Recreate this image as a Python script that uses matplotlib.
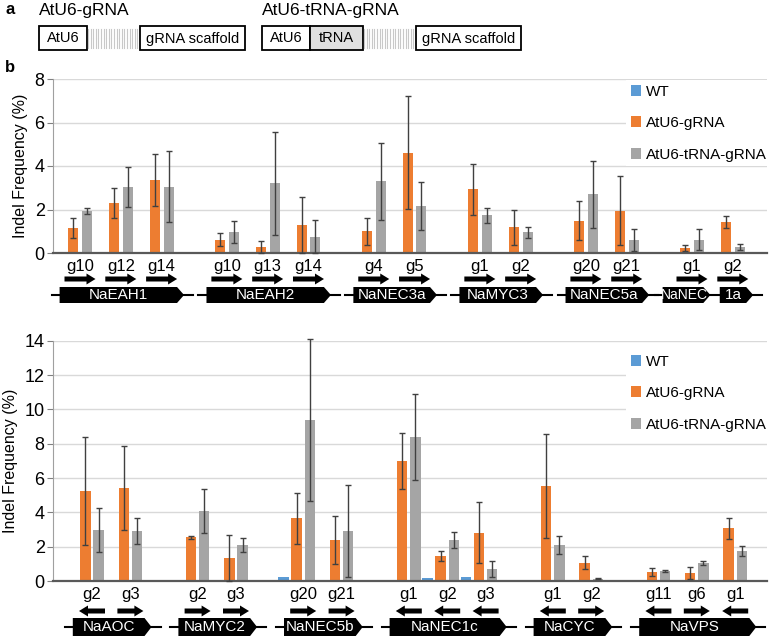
import matplotlib
matplotlib.use("Agg")
from matplotlib import pyplot as plt
from matplotlib import transforms
from matplotlib.patches import Polygon, Rectangle
import numpy as np

plt.rcParams['font.family'] = ['Liberation Sans', 'DejaVu Sans']

# ---- data ----
series = ["WT", "AtU6-gRNA", "AtU6-tRNA-gRNA"]
colors = ["#5B9BD5", "#ED7D31", "#A5A5A5"]

top_genes = ["NaEAH1", "NaEAH2", "NaNEC3a", "NaMYC3", "NaNEC5a", "NaNEC1a"]
top_grna = [["g10", "g12", "g14"], ["g10", "g13", "g14"], ["g4", "g5"],
            ["g1", "g2"], ["g20", "g21"], ["g1", "g2"]]
top_dir = [[1, 1, 1], [1, 1, 1], [1, 1], [1, 1], [1, 1], [1, 1]]
top_wt = [0, 0, 0, 0, 0.05, 0, 0, 0, 0, 0, 0, 0, 0.05, 0]
top_u6 = [1.15, 2.30, 3.36, 0.61, 0.28, 1.29, 1.00, 4.62, 2.93, 1.18, 1.49, 1.94, 0.23, 1.43]
top_u6_err = [0.46, 0.70, 1.18, 0.31, 0.27, 1.29, 0.62, 2.59, 1.17, 0.81, 0.90, 1.58, 0.15, 0.29]
top_tr = [1.94, 3.04, 3.04, 0.97, 3.20, 0.75, 3.30, 2.15, 1.74, 0.95, 2.69, 0.61, 0.61, 0.28]
top_tr_err = [0.15, 0.92, 1.63, 0.50, 2.37, 0.76, 1.77, 1.11, 0.35, 0.25, 1.53, 0.51, 0.48, 0.14]

bot_genes = ["NaAOC", "NaMYC2", "NaNEC5b", "NaNEC1c", "NaCYC", "NaVPS"]
bot_grna = [["g2", "g3"], ["g2", "g3"], ["g20", "g21"], ["g1", "g2", "g3"],
            ["g1", "g2"], ["g11", "g6", "g1"]]
bot_dir = [[-1, 1], [1, 1], [1, 1], [-1, -1, -1], [-1, 1], [-1, 1, -1]]
bot_wt = [0, 0, 0, 0, 0.25, 0.08, 0.08, 0.15, 0.25, 0, 0, 0, 0, 0]
bot_u6 = [5.26, 5.42, 2.54, 1.36, 3.65, 2.39, 7.01, 1.46, 2.82, 5.53, 1.07, 0.52, 0.49, 3.07]
bot_u6_err = [3.15, 2.45, 0.08, 1.34, 1.48, 1.39, 1.63, 0.29, 1.78, 3.04, 0.36, 0.22, 0.35, 0.62]
bot_tr = [2.97, 2.91, 4.08, 2.10, 9.38, 2.91, 8.41, 2.39, 0.70, 2.10, 0.12, 0.58, 1.03, 1.75]
bot_tr_err = [1.26, 0.76, 1.29, 0.39, 4.74, 2.67, 2.50, 0.45, 0.49, 0.54, 0.03, 0.08, 0.12, 0.27]

W, H = 771, 640
fig = plt.figure(figsize=(W / 100, H / 100), dpi=100)

# ---- panel a (construct diagram, pixel coords) ----
ax0 = fig.add_axes([0, 0, 1, 1])
ax0.set_xlim(0, W)
ax0.set_ylim(H, 0)
ax0.axis("off")
ax0.text(5, 9, "a", fontsize=12, fontweight="bold", va="center")
ax0.text(5, 68, "b", fontsize=12, fontweight="bold", va="center")


def box(x0, x1, label, face="white"):
    ax0.add_patch(Rectangle((x0, 26), x1 - x0, 24, facecolor=face, edgecolor="black", lw=1.3))
    ax0.text((x0 + x1) / 2, 38.5, label, fontsize=10.5, ha="center", va="center")


def spacer(x0, x1):
    for xs in np.arange(x0 + 1, x1, 2.6):
        ax0.plot([xs, xs], [28.5, 37.5], color="#c8c8c8", lw=0.8)
        ax0.plot([xs, xs], [38.8, 47.5], color="#c8c8c8", lw=0.8)


ax0.text(39, 11, "AtU6-gRNA", fontsize=12.5, va="center")
box(39, 87, "AtU6")
spacer(87, 140)
box(140, 245, "gRNA scaffold")

ax0.text(262, 11, "AtU6-tRNA-gRNA", fontsize=12.5, va="center")
box(262, 310, "AtU6")
box(310, 363, "tRNA", face="#e0e0e0")
spacer(363, 416)
box(416, 521, "gRNA scaffold")


def positions(groups, gap):
    pos = []
    x = 0.0
    for i, g in enumerate(groups):
        if i > 0:
            x += gap
        for j in range(len(g)):
            if j > 0:
                x += 1
            pos.append(x)
    return np.array(pos)


def panel(rect, groups, genes, dirs, wt, u6, u6e, tr, tre, gap, ymax, ppu, first_px,
          lab_dy, arr_dy, gene_dy, gene_h, arr_len, bar_w, step, legend_anchor):
    ax = fig.add_axes(rect)
    pos = positions(groups, gap)
    ax_h = rect[3] * H
    left_px = rect[0] * W
    right_px = (rect[0] + rect[2]) * W
    xl = -(first_px - left_px) / ppu
    xr = xl + (right_px - left_px) / ppu
    ax.set_xlim(xl, xr)
    ax.set_ylim(0, ymax)

    ax.bar(pos - 1.5 * step, wt, bar_w, color=colors[0], label=series[0], zorder=2)
    ax.bar(pos - 0.5 * step, u6, bar_w, color=colors[1], label=series[1], zorder=2)
    ax.bar(pos + 0.5 * step, tr, bar_w, color=colors[2], label=series[2], zorder=2)
    for xs, ys, es in [(pos - 0.5 * step, u6, u6e), (pos + 0.5 * step, tr, tre)]:
        eb = ax.errorbar(xs, ys, yerr=es, fmt="none", ecolor="#404040",
                         elinewidth=1, capsize=2.5, capthick=1, zorder=3)
        for part in list(eb[1]) + list(eb[2]):
            part.set_clip_on(False)

    ax.set_yticks(np.arange(0, ymax + 0.1, 2))
    ax.yaxis.grid(True, color="#d9d9d9", lw=1)
    ax.set_axisbelow(True)
    ax.tick_params(axis="y", labelsize=13, length=4, color="#808080", pad=2)
    ax.set_ylabel("Indel Frequency (%)", fontsize=11.5, labelpad=5)
    for s in ["top", "right"]:
        ax.spines[s].set_visible(False)
    ax.spines["left"].set_color("#a0a0a0")
    ax.spines["bottom"].set_color("#595959")
    ax.spines["bottom"].set_linewidth(1.6)

    names = [g for grp in groups for g in grp]
    ax.set_xticks(pos, labels=names)
    ax.tick_params(axis="x", length=0, labelsize=12, pad=lab_dy)

    tr_b = transforms.blended_transform_factory(ax.transData, ax.transAxes)
    fy = lambda px: -px / ax_h
    du = lambda px: px / ppu

    # gRNA arrows
    d_flat = [d for grp in dirs for d in grp]
    ya = fy(arr_dy)
    sh = 2.5 / ax_h
    hh = 5.5 / ax_h
    hl = du(9)
    L = du(arr_len)
    for x, d in zip(pos, d_flat):
        a0 = x - d * L / 2
        a1 = x + d * L / 2
        ab = a1 - d * hl
        verts = [(a0, ya - sh), (ab, ya - sh), (ab, ya - hh), (a1, ya),
                 (ab, ya + hh), (ab, ya + sh), (a0, ya + sh)]
        ax.add_patch(Polygon(verts, closed=True, facecolor="black", edgecolor="none",
                             transform=tr_b, clip_on=False))

    # gene boxes
    yg = fy(gene_dy)
    gh = gene_h / 2 / ax_h
    tip = du(7)
    k = 0
    for gname, grp in zip(genes, groups):
        p = pos[k:k + len(grp)]
        k += len(grp)
        x0 = p[0] - 0.5
        x1 = p[-1] + 0.55
        if gname == "NaNEC1a":
            x0 = p[0] - 0.72
            x1 = p[-1] + 0.5
            parts = [(x0, p[0] + 0.45, "NaNEC", 10, 0.35),
                     (p[-1] - 0.32, x1, "1a", 11, 0.0)]
        else:
            parts = [(x0, x1, gname, 11, 0.0)]
        ax.plot([x0 - du(8), x1 + du(9)], [yg, yg], color="black", lw=1.5,
                transform=tr_b, clip_on=False)
        for b0, b1, txt, fs, sh_t in parts:
            verts = [(b0, yg - gh), (b1 - tip, yg - gh), (b1, yg),
                     (b1 - tip, yg + gh), (b0, yg + gh)]
            ax.add_patch(Polygon(verts, closed=True, facecolor="black", edgecolor="none",
                                 transform=tr_b, clip_on=False))
            ax.text((b0 + b1 - tip + sh_t * tip) / 2, yg, txt, color="white", fontsize=fs,
                    ha="center", va="center", transform=tr_b)

    ax.legend(loc="upper left", bbox_to_anchor=legend_anchor,
              bbox_transform=fig.transFigure, fontsize=11, frameon=True,
              facecolor="white", edgecolor="none", fancybox=False, framealpha=1,
              handlelength=0.7, handleheight=0.7, handletextpad=0.3,
              labelspacing=1.15, borderpad=0.3, borderaxespad=0)
    return ax


panel([53 / W, 1 - 253 / H, 714 / W, 174 / H], top_grna, top_genes, top_dir,
      top_wt, top_u6, top_u6_err, top_tr, top_tr_err,
      gap=1.6, ymax=8, ppu=40.8, first_px=80,
      lab_dy=4, arr_dy=26, gene_dy=42, gene_h=16, arr_len=31,
      bar_w=0.245, step=0.34, legend_anchor=(626 / W, 1 - 80 / H))

panel([53 / W, 1 - 581 / H, 714 / W, 240.3 / H], bot_grna, bot_genes, bot_dir,
      bot_wt, bot_u6, bot_u6_err, bot_tr, bot_tr_err,
      gap=1.75, ymax=14, ppu=38.4, first_px=92,
      lab_dy=4, arr_dy=30, gene_dy=46, gene_h=18, arr_len=26,
      bar_w=0.27, step=0.34, legend_anchor=(626 / W, 1 - 350 / H))

fig.savefig("out.png", dpi=100)
